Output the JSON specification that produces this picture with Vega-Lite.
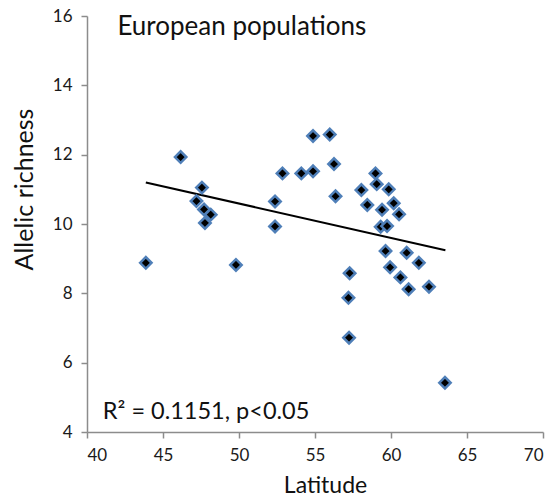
{
  "$schema": "https://vega.github.io/schema/vega-lite/v6.json",
  "width": 456,
  "height": 416,
  "autosize": "none",
  "padding": {"left": 87, "top": 16, "right": 12, "bottom": 67},
  "background": "white",
  "config": {
    "view": {"stroke": null},
    "font": "Lato",
    "axis": {
      "grid": false,
      "domainColor": "#8c8c8c",
      "domainWidth": 1.5,
      "tickColor": "#8c8c8c",
      "tickWidth": 1.5,
      "tickSize": 6,
      "labelFont": "Lato",
      "labelFontSize": 17,
      "labelColor": "#1a1a1a",
      "labelPadding": 9,
      "titleFont": "Lato",
      "titleFontWeight": "normal",
      "titleColor": "#111111",
      "titleBaseline": "alphabetic"
    }
  },
  "datasets": {
    "pops": [
      {"lat": 43.87, "ar": 8.88},
      {"lat": 46.16, "ar": 11.93},
      {"lat": 47.56, "ar": 11.05},
      {"lat": 47.2, "ar": 10.66},
      {"lat": 47.7, "ar": 10.42},
      {"lat": 48.14, "ar": 10.27},
      {"lat": 47.76, "ar": 10.03},
      {"lat": 49.8, "ar": 8.82},
      {"lat": 52.37, "ar": 10.65},
      {"lat": 52.37, "ar": 9.93},
      {"lat": 52.86, "ar": 11.46},
      {"lat": 54.1, "ar": 11.46},
      {"lat": 54.87, "ar": 11.52},
      {"lat": 54.87, "ar": 12.54},
      {"lat": 55.97, "ar": 12.58},
      {"lat": 56.25, "ar": 11.73},
      {"lat": 56.35, "ar": 10.8},
      {"lat": 58.98, "ar": 11.46},
      {"lat": 59.06, "ar": 11.15},
      {"lat": 58.05, "ar": 10.98},
      {"lat": 59.85, "ar": 11.0},
      {"lat": 58.44, "ar": 10.55},
      {"lat": 59.41, "ar": 10.41},
      {"lat": 60.18, "ar": 10.6},
      {"lat": 60.53, "ar": 10.28},
      {"lat": 59.32, "ar": 9.92},
      {"lat": 59.74, "ar": 9.94},
      {"lat": 59.64, "ar": 9.22},
      {"lat": 61.03, "ar": 9.17},
      {"lat": 61.83, "ar": 8.88},
      {"lat": 59.94, "ar": 8.75},
      {"lat": 60.62, "ar": 8.46},
      {"lat": 61.16, "ar": 8.12},
      {"lat": 62.5, "ar": 8.19},
      {"lat": 57.28, "ar": 8.58},
      {"lat": 57.2, "ar": 7.87},
      {"lat": 57.24, "ar": 6.72},
      {"lat": 63.55, "ar": 5.42}
    ],
    "fit": [
      {"lat": 43.87, "ar": 11.2},
      {"lat": 63.58, "ar": 9.24}
    ],
    "title": [
      {"lat": 42.0, "ar": 15.44, "label": "European populations"}
    ],
    "stats": [
      {"lat": 41.04, "ar": 4.38, "label": "R² = 0.1151, p<0.05"}
    ]
  },
  "layer": [
    {
      "data": {"name": "fit"},
      "mark": {"type": "line", "color": "#000000", "strokeWidth": 2},
      "encoding": {
        "x": {
          "field": "lat",
          "type": "quantitative",
          "scale": {"domain": [40, 70], "nice": false, "zero": false},
          "axis": {
            "title": "Latitude",
            "values": [40, 45, 50, 55, 60, 65, 70],
            "titleFontSize": 23,
            "titleX": 238,
            "titleY": 60
          }
        },
        "y": {
          "field": "ar",
          "type": "quantitative",
          "scale": {"domain": [4, 16], "nice": false, "zero": false},
          "axis": {
            "title": "Allelic richness",
            "values": [4, 6, 8, 10, 12, 14, 16],
            "titleFontSize": 25,
            "titleX": -55,
            "titleY": 173
          }
        }
      }
    },
    {
      "data": {"name": "pops"},
      "mark": {
        "type": "point",
        "shape": "diamond",
        "filled": true,
        "size": 130,
        "fill": "#000000",
        "stroke": "#4f7fb8",
        "strokeWidth": 2.5,
        "opacity": 1
      },
      "encoding": {
        "x": {"field": "lat", "type": "quantitative"},
        "y": {"field": "ar", "type": "quantitative"}
      }
    },
    {
      "data": {"name": "title"},
      "mark": {"type": "text", "align": "left", "baseline": "alphabetic", "fontSize": 26, "color": "#111111"},
      "encoding": {
        "x": {"field": "lat", "type": "quantitative"},
        "y": {"field": "ar", "type": "quantitative"},
        "text": {"field": "label"}
      }
    },
    {
      "data": {"name": "stats"},
      "mark": {"type": "text", "align": "left", "baseline": "alphabetic", "fontSize": 23.5, "color": "#111111"},
      "encoding": {
        "x": {"field": "lat", "type": "quantitative"},
        "y": {"field": "ar", "type": "quantitative"},
        "text": {"field": "label"}
      }
    }
  ]
}
